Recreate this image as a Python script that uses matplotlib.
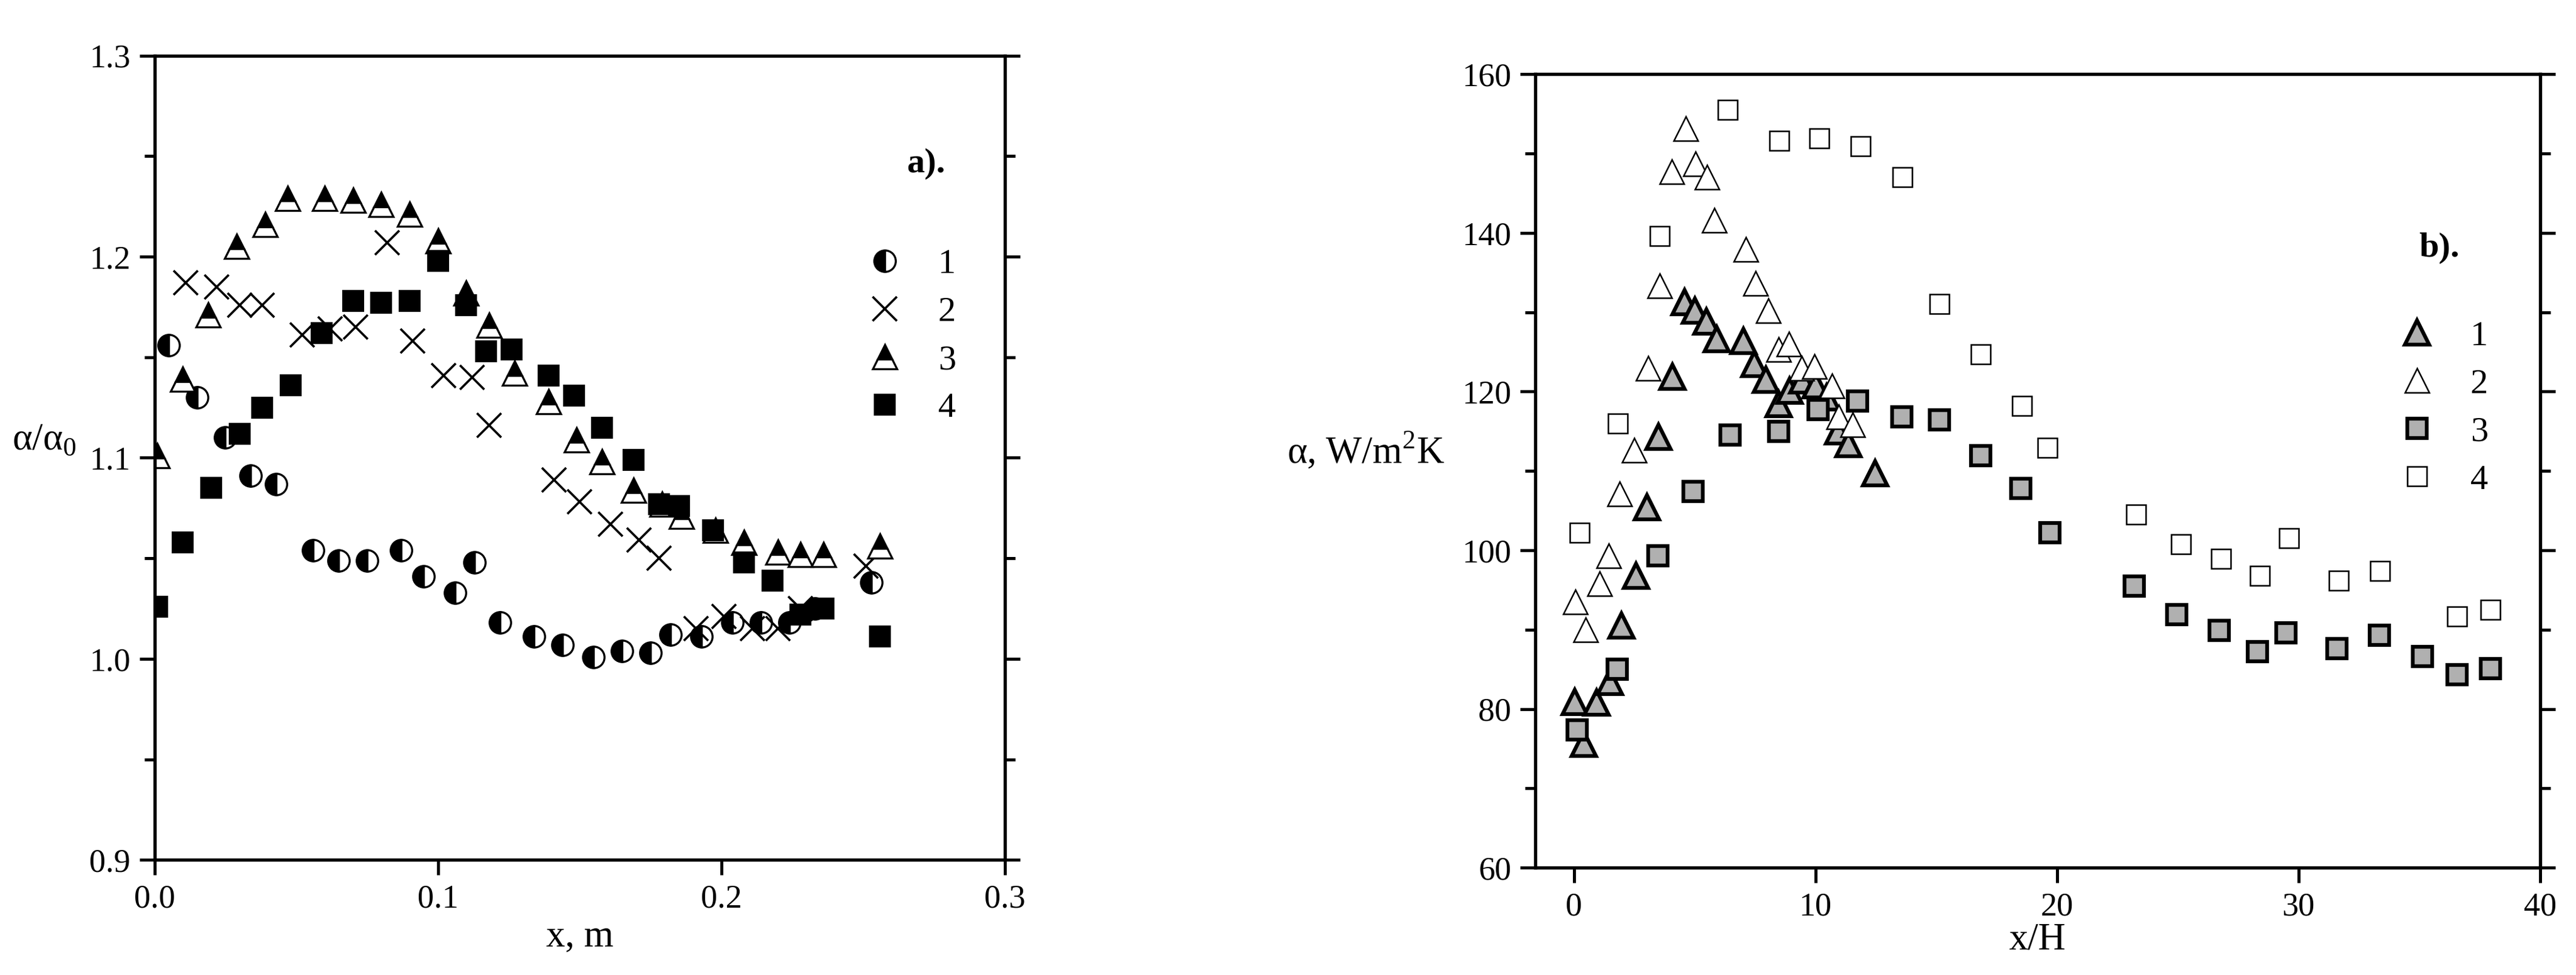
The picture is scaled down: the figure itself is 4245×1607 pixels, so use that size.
import matplotlib
matplotlib.use("Agg")
import matplotlib.pyplot as plt
from matplotlib.ticker import MultipleLocator

plt.rcParams['font.family'] = ['Liberation Serif', 'DejaVu Serif']
plt.rcParams['mathtext.fontset'] = 'custom'
plt.rcParams['mathtext.rm'] = 'Liberation Serif'

# ---- panel a ----
a1_x = [0.005,0.015,0.025,0.034,0.043,0.056,0.065,0.075,0.087,0.095,0.106,0.113,0.122,0.134,0.144,0.155,0.165,0.175,0.182,0.193,0.204,0.214,0.224,0.233,0.253]
a1_y = [1.156,1.130,1.110,1.091,1.087,1.054,1.049,1.049,1.054,1.041,1.033,1.048,1.018,1.011,1.007,1.001,1.004,1.003,1.012,1.011,1.018,1.018,1.018,1.025,1.038]
a2_x = [0.011,0.022,0.030,0.038,0.052,0.062,0.071,0.082,0.091,0.102,0.112,0.118,0.141,0.150,0.161,0.171,0.178,0.191,0.201,0.211,0.220,0.228,0.251]
a2_y = [1.187,1.185,1.176,1.176,1.161,1.164,1.165,1.207,1.158,1.141,1.140,1.116,1.089,1.078,1.067,1.059,1.050,1.015,1.021,1.015,1.015,1.025,1.046]
a3_x = [0.001,0.010,0.019,0.029,0.039,0.047,0.060,0.070,0.080,0.090,0.100,0.110,0.118,0.127,0.139,0.149,0.158,0.169,0.179,0.186,0.198,0.208,0.220,0.228,0.236,0.256]
a3_y = [1.101,1.139,1.171,1.205,1.216,1.229,1.229,1.228,1.226,1.221,1.208,1.182,1.166,1.142,1.128,1.109,1.098,1.084,1.077,1.071,1.064,1.058,1.053,1.052,1.052,1.056]
a4_x = [0.001,0.010,0.020,0.030,0.038,0.048,0.059,0.070,0.080,0.090,0.100,0.110,0.117,0.126,0.139,0.148,0.158,0.169,0.178,0.185,0.197,0.208,0.218,0.228,0.236,0.256]
a4_y = [1.026,1.058,1.085,1.112,1.125,1.136,1.162,1.178,1.177,1.178,1.198,1.176,1.153,1.154,1.141,1.131,1.115,1.099,1.077,1.076,1.064,1.048,1.039,1.022,1.025,1.011]

# ---- panel b ----
b1_x = [0.03,0.42,0.94,1.49,1.98,2.56,3.02,3.51,4.09,4.58,5.0,5.49,5.91,7.01,7.47,7.95,8.47,8.93,9.45,10.0,10.45,10.94,11.36,12.47]
b1_y = [80.9,75.6,80.8,83.4,90.5,96.8,105.4,114.3,121.9,131.3,130.2,128.8,126.6,126.4,123.5,121.5,118.4,120.1,121.4,120.8,119.3,115.0,113.4,109.7]
b2_x = [0.06,0.49,1.07,1.43,1.88,2.5,3.08,3.54,4.06,4.64,5.03,5.52,5.81,7.11,7.53,8.05,8.47,8.9,9.42,9.97,10.68,10.97,11.53]
b2_y = [93.5,90.0,95.8,99.3,107.1,112.6,122.9,133.3,147.7,153.1,148.7,147.0,141.6,137.9,133.6,130.2,125.3,126.0,122.9,123.2,120.7,116.8,115.8]
b3_x = [0.13,1.79,3.47,4.94,6.46,8.47,10.1,11.75,13.57,15.13,16.85,18.5,19.71,23.21,24.97,26.72,28.31,29.48,31.59,33.34,35.13,36.56,37.95]
b3_y = [77.4,85.0,99.3,107.4,114.5,115.0,117.7,118.8,116.8,116.4,111.9,107.8,102.2,95.5,91.9,89.9,87.2,89.6,87.6,89.3,86.6,84.3,85.1]
b4_x = [0.23,1.82,3.54,6.36,8.51,10.16,11.88,13.6,15.13,16.85,18.54,19.61,23.28,25.13,26.79,28.41,29.61,31.66,33.38,36.56,37.95]
b4_y = [102.2,116.0,139.6,155.5,151.6,151.9,150.9,147.0,131.0,124.7,118.2,112.9,104.5,100.8,98.9,96.8,101.5,96.2,97.4,91.7,92.5]

labels = ['1', '2', '3', '4']

fig = plt.figure(figsize=(4245/300, 1607/300), dpi=300)
ax1 = fig.add_axes([0.060, 0.118, 0.330, 0.825])
ax2 = fig.add_axes([0.596, 0.110, 0.390, 0.814])

ms = 8.5
ax1.plot(a1_x, a1_y, 'o', ms=ms, fillstyle='left', mfc='black', mfcalt='white', mec='black', mew=0.8, label=labels[0])
ax1.plot(a2_x, a2_y, 'x', ms=ms+1, color='black', mew=0.9, label=labels[1])
ax1.plot(a3_x, a3_y, '^', ms=ms+1, fillstyle='top', mfc='black', mfcalt='white', mec='black', mew=0.8, label=labels[2])
ax1.plot(a4_x, a4_y, 's', ms=ms-1, color='black', label=labels[3])
ax1.set_xlim(0, 0.3)
ax1.set_ylim(0.9, 1.3)
ax1.xaxis.set_major_locator(MultipleLocator(0.1))
ax1.yaxis.set_major_locator(MultipleLocator(0.1))
ax1.yaxis.set_minor_locator(MultipleLocator(0.05))
ax1.xaxis.set_minor_locator(MultipleLocator(0.05))
ax1.xaxis.set_major_formatter(matplotlib.ticker.FormatStrFormatter('%.1f'))
ax1.yaxis.set_major_formatter(matplotlib.ticker.FormatStrFormatter('%.1f'))
ax1.set_xlabel('x, m', fontsize=15, labelpad=2)
ax1.set_ylabel('α/α$_0$', fontsize=15, rotation=0, labelpad=18)
ax1.text(0.93, 0.855, 'a).', transform=ax1.transAxes, fontsize=14, fontweight='bold', ha='right')
ax1.legend(loc='upper right', bbox_to_anchor=(0.98, 0.80), frameon=False, fontsize=14,
           handletextpad=0.9, labelspacing=0.45, handlelength=1.2)

ax2.plot(b1_x, b1_y, '^', ms=ms+1, mfc='#b0b0b0', mec='black', mew=1.5, label=labels[0])
ax2.plot(b2_x, b2_y, '^', ms=ms+1, mfc='white', mec='black', mew=0.6, label=labels[1])
ax2.plot(b3_x, b3_y, 's', ms=ms-1, mfc='#b0b0b0', mec='black', mew=1.5, label=labels[2])
ax2.plot(b4_x, b4_y, 's', ms=ms-1, mfc='white', mec='black', mew=0.6, label=labels[3])
ax2.set_xlim(-1.6, 40)
ax2.set_ylim(60, 160)
ax2.xaxis.set_major_locator(MultipleLocator(10))
ax2.yaxis.set_major_locator(MultipleLocator(20))
ax2.yaxis.set_minor_locator(MultipleLocator(10))
ax2.xaxis.set_minor_locator(MultipleLocator(5))
ax2.set_xlabel('x/H', fontsize=15, labelpad=0)
ax2.set_ylabel('α, W/m$^2$K', fontsize=15, rotation=0, labelpad=38)
ax2.text(0.92, 0.77, 'b).', transform=ax2.transAxes, fontsize=14, fontweight='bold', ha='right')
ax2.legend(loc='upper right', bbox_to_anchor=(0.98, 0.73), frameon=False, fontsize=14,
           handletextpad=0.9, labelspacing=0.45, handlelength=1.2)

for ax in (ax1, ax2):
    for s in ax.spines.values():
        s.set_linewidth(1.3)
    ax.tick_params(which='both', direction='out', top=False, right=True, labelsize=13, width=1.2)
    ax.tick_params(which='major', length=6)
    ax.tick_params(which='minor', length=4)
    ax.tick_params(axis='x', which='minor', bottom=False)

fig.savefig('out.png', dpi=300)
